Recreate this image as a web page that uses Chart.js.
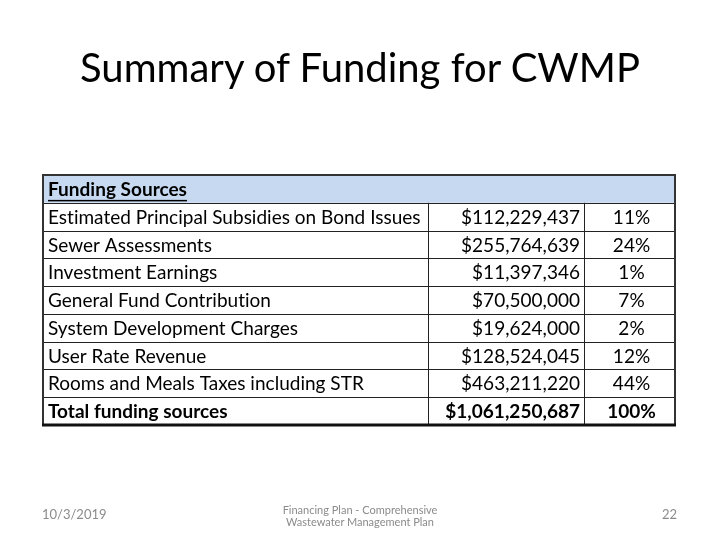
<!DOCTYPE html>
<html>
<head>
<meta charset="utf-8">
<script src="https://cdn.jsdelivr.net/npm/chart.js@4"></script>
<style>
  body { margin: 0; background: #fff; }
  #slide { position: relative; width: 720px; height: 540px; overflow: hidden; font-family: Lato, "Open Sans", sans-serif; }
  #slideTitle { position: absolute; left: 0; top: 43px; width: 720px; text-align: center; font-size: 40px; color: #000; font-variant-ligatures: none; }
  .foot { position: absolute; font-size: 11px; color: #8b8b8b; line-height: 11.5px; }
  #footDate { left: 42px; top: 508px; font-size: 13px; line-height: 13px; }
  #footMid { left: 210px; width: 300px; top: 504px; text-align: center; }
  #footNum { right: 43px; top: 508px; font-size: 13px; line-height: 13px; }
  canvas { position: absolute; left: 0; top: 0; }
</style>
</head>
<body>
<div id="slide">
  <canvas id="fundChart" width="720" height="540"></canvas>
  <div id="slideTitle">Summary of Funding for CWMP</div>
  <div class="foot" id="footDate">10/3/2019</div>
  <div class="foot" id="footMid">Financing Plan - Comprehensive<br>Wastewater Management Plan</div>
  <div class="foot" id="footNum">22</div>
</div>
<script>
// === data ===
const headerLabel = "Funding Sources";
const sourceLabels = [
    "Estimated Principal Subsidies on Bond Issues",
    "Sewer Assessments",
    "Investment Earnings",
    "General Fund Contribution",
    "System Development Charges",
    "User Rate Revenue",
    "Rooms and Meals Taxes including STR"
];
const sourceAmounts = [112229437, 255764639, 11397346, 70500000, 19624000, 128524045, 463211220];
const sourceShares = [11, 24, 1, 7, 2, 12, 44];
const totalLabel = "Total funding sources";
const totalAmount = 1061250687;
const totalShare = 100;

// column edges on the x scale (0..100)
const COL_EDGES = [0, 60.9, 85.6, 100];
const FONT = "Lato, 'Open Sans', sans-serif";

const rowLabels = [headerLabel, ...sourceLabels, totalLabel];

function fmtMoney(v) {
    return "$" + v.toLocaleString("en-US");
}

// === plugin: draw the table cells from the scales ===
const tablePlugin = {
    id: "fundTable",
    afterDraw(chart) {
        const { ctx, scales: { x, y } } = chart;
        const n = rowLabels.length;
        const band = (y.bottom - y.top) / n;
        const left = x.getPixelForValue(COL_EDGES[0]);
        const right = x.getPixelForValue(COL_EDGES[3]);
        const c1 = x.getPixelForValue(COL_EDGES[1]);
        const c2 = x.getPixelForValue(COL_EDGES[2]);

        ctx.save();
        // header fill
        const hTop = y.getPixelForValue(0) - band / 2;
        ctx.fillStyle = "#c6d9f0";
        ctx.fillRect(left, hTop, right - left, band);

        // row lines
        ctx.strokeStyle = "#222";
        ctx.lineWidth = 1;
        for (let i = 1; i < n; i++) {
            const yy = Math.round(y.getPixelForValue(i) - band / 2) + 0.5;
            ctx.beginPath();
            ctx.moveTo(left, yy);
            ctx.lineTo(right, yy);
            ctx.stroke();
        }
        // column lines (not in header)
        const bodyTop = y.getPixelForValue(1) - band / 2;
        [c1, c2].forEach(cx => {
            const xx = Math.round(cx) + 0.5;
            ctx.beginPath();
            ctx.moveTo(xx, bodyTop);
            ctx.lineTo(xx, y.bottom);
            ctx.stroke();
        });
        // outer border
        ctx.lineWidth = 2;
        ctx.strokeStyle = "#333";
        ctx.strokeRect(left, y.top, right - left, y.bottom - y.top);
        ctx.lineWidth = 3;
        ctx.strokeStyle = "#111";
        ctx.beginPath();
        ctx.moveTo(left - 1, y.bottom);
        ctx.lineTo(right + 1, y.bottom);
        ctx.stroke();

        // text (tiny letter spacing keeps Lato from using the "ti" ligature)
        ctx.fillStyle = "#000";
        ctx.textBaseline = "middle";
        if ("letterSpacing" in ctx) ctx.letterSpacing = "0.01px";
        rowLabels.forEach((label, i) => {
            const cy = y.getPixelForValue(i) + 1;
            const bold = (i === 0 || i === n - 1);
            ctx.font = (bold ? "bold " : "") + "19px " + FONT;
            ctx.textAlign = "left";
            ctx.fillText(label, left + 5, cy);
            if (i === 0) {
                const w = ctx.measureText(label).width;
                ctx.fillRect(left + 5, cy + 10, w, 1.5);
                return;
            }
            let amt, pct;
            if (i === n - 1) { amt = totalAmount; pct = totalShare; }
            else { amt = sourceAmounts[i - 1]; pct = sourceShares[i - 1]; }
            ctx.textAlign = "right";
            ctx.fillText(fmtMoney(amt), c2 - 4, cy);
            ctx.textAlign = "center";
            ctx.fillText(pct + "%", (c2 + right) / 2 + 2, cy);
        });
        ctx.restore();
    }
};

const fundChart = new Chart(document.getElementById("fundChart").getContext("2d"), {
    type: "bar",
    data: {
        labels: rowLabels,
        datasets: [{ data: [], backgroundColor: "rgba(0,0,0,0)" }]
    },
    options: {
        indexAxis: "y",
        responsive: false,
        animation: false,
        events: [],
        layout: { padding: { left: 43, right: 45, top: 175, bottom: 115 } },
        plugins: { legend: { display: false }, title: { display: false }, tooltip: { enabled: false } },
        scales: {
            x: { type: "linear", min: 0, max: 100, display: false },
            y: { type: "category", offset: true, display: false }
        }
    },
    plugins: [tablePlugin]
});
</script>
</body>
</html>
